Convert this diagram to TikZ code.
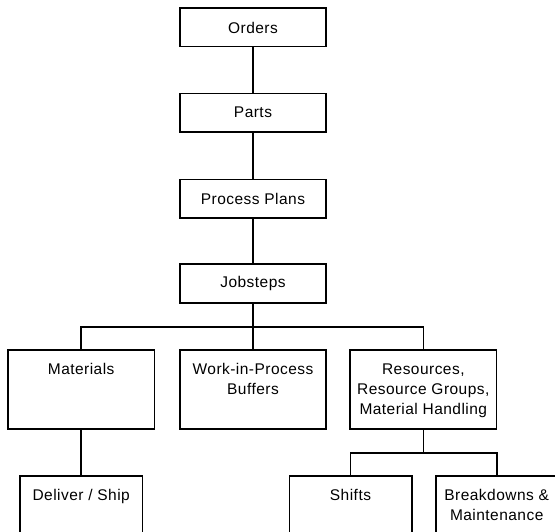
\documentclass[tikz,border=0pt]{standalone}
\usepackage{fontspec}
\setmainfont{Liberation Sans}[LetterSpace=3]
\begin{document}
\begin{tikzpicture}[x=1pt,y=-1pt,
  line width=1.6pt,
  box/.style={draw=black, fill=white, rectangle, inner sep=0pt},
  lbl/.style={inner sep=0pt, align=center, anchor=north, font=\fontsize{15.5}{20}\selectfont},
  ctr/.style={inner sep=0pt, font=\fontsize{15.5}{20}\selectfont}]
\useasboundingbox (0,0) rectangle (555,532);
\clip (0,0) rectangle (555,532);
% top chain
\node[box, minimum width=146pt, minimum height=38.4pt] (orders) at (253,27.5) {};
\node[ctr] at (orders) {Orders};
\node[box, minimum width=146pt, minimum height=38.7pt] (parts) at (253,112.7) {};
\node[ctr] at (parts) {Parts};
\node[box, minimum width=146pt, minimum height=38.7pt] (plans) at (253,198.7) {};
\node[ctr] at (plans) {Process Plans};
\node[box, minimum width=146pt, minimum height=39pt] (jobs) at (253,283.8) {};
\node[ctr] at (jobs) {Jobsteps};
% middle row
\node[box, minimum width=146.3pt, minimum height=79pt] (mat) at (81.2,389.5) {};
\node[lbl] at ([yshift=-13.5pt]mat.north) {Materials};
\node[box, minimum width=146pt, minimum height=79pt] (wip) at (253,389.5) {};
\node[lbl] at ([yshift=-13.5pt]wip.north) {Work-in-Process\\Buffers};
\node[box, minimum width=146.7pt, minimum height=79pt] (res) at (423.3,389.5) {};
\node[lbl] at ([yshift=-13.5pt]res.north) {Resources,\\Resource Groups,\\Material Handling};
% bottom row
\node[box, minimum width=122.7pt, minimum height=70pt] (del) at (81.2,510.7) {};
\node[lbl] at ([yshift=-13.5pt]del.north) {Deliver / Ship};
\node[box, minimum width=122.4pt, minimum height=70pt] (shifts) at (350.5,510.7) {};
\node[lbl] at ([yshift=-13.5pt]shifts.north) {Shifts};
\node[box, minimum width=126pt, minimum height=70pt] (brk) at (498.7,510.7) {};
\node[lbl] at ([yshift=-13.5pt, xshift=-2pt]brk.north) {Breakdowns \&\\Maintenance};
% connectors
\coordinate (bus) at (253,327);
\coordinate (bus2) at (423.3,453);
\draw (orders.south) -- (parts.north);
\draw (parts.south) -- (plans.north);
\draw (plans.south) -- (jobs.north);
\draw (jobs.south) -- (bus);
\draw (mat.north) |- (bus) -| (res.north);
\draw (bus) -- (wip.north);
\draw (mat.south) -- (del.north);
\draw (res.south) -- (bus2);
\draw (shifts.north) |- (bus2) -| ([xshift=-2pt]brk.north);
\end{tikzpicture}
\end{document}
